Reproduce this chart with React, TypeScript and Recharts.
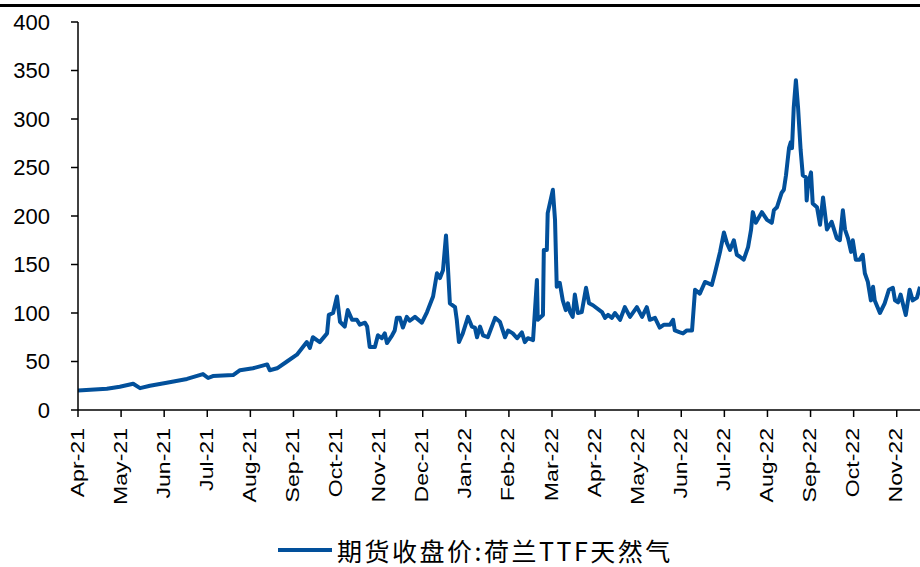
import React from "react";
import { LineChart, Line, XAxis, YAxis, Legend } from "recharts";

const monthLabels = [
  "Apr-21", "May-21", "Jun-21", "Jul-21", "Aug-21", "Sep-21", "Oct-21", "Nov-21", "Dec-21",
  "Jan-22", "Feb-22", "Mar-22", "Apr-22", "May-22", "Jun-22", "Jul-22", "Aug-22", "Sep-22",
  "Oct-22", "Nov-22",
];

const yTicks = [0, 50, 100, 150, 200, 250, 300, 350, 400];

// months elapsed since Apr-21
const monthOffsets = [
  0, 0.67, 0.97, 1.28, 1.44, 1.67, 2.06, 2.53, 2.9, 3.02, 3.13, 3.6, 3.76, 4.06, 4.39, 4.45, 4.62,
  4.85, 5.08, 5.31, 5.38, 5.45, 5.61, 5.78, 5.82, 5.92, 6.01, 6.08, 6.19, 6.26, 6.36, 6.47, 6.54,
  6.66, 6.71, 6.77, 6.89, 6.96, 7.05, 7.12, 7.17, 7.29, 7.35, 7.4, 7.47, 7.54, 7.63, 7.7, 7.82,
  7.98, 8.1, 8.24, 8.33, 8.4, 8.47, 8.54, 8.58, 8.63, 8.75, 8.79, 8.84, 8.93, 9.05, 9.14, 9.21,
  9.26, 9.33, 9.4, 9.51, 9.68, 9.79, 9.91, 9.98, 10.09, 10.19, 10.3, 10.37, 10.44, 10.56, 10.65,
  10.67, 10.79, 10.81, 10.88, 10.9, 11.02, 11.07, 11.11, 11.18, 11.25, 11.32, 11.37, 11.42, 11.48,
  11.53, 11.6, 11.69, 11.79, 11.86, 11.95, 12.16, 12.23, 12.3, 12.39, 12.46, 12.58, 12.69, 12.81,
  12.97, 13.09, 13.2, 13.27, 13.39, 13.5, 13.6, 13.74, 13.81, 13.85, 13.97, 14.04, 14.13, 14.25,
  14.32, 14.43, 14.55, 14.71, 14.78, 14.9, 14.99, 15.06, 15.13, 15.22, 15.29, 15.36, 15.45, 15.55,
  15.62, 15.66, 15.73, 15.87, 15.99, 16.1, 16.15, 16.22, 16.33, 16.38, 16.43, 16.5, 16.54, 16.57,
  16.61, 16.66, 16.71, 16.77, 16.82, 16.89, 16.91, 16.94, 17.01, 17.05, 17.15, 17.22, 17.29, 17.38,
  17.49, 17.61, 17.68, 17.75, 17.8, 17.87, 17.94, 17.98, 18.05, 18.14, 18.21, 18.26, 18.33, 18.4,
  18.45, 18.49, 18.61, 18.72, 18.82, 18.91, 18.96, 19.03, 19.09, 19.14, 19.21, 19.3, 19.37, 19.47,
  19.54,
];

const ttfPrices = [
  20, 22, 24, 27, 22.5, 25, 28, 32, 37, 33, 35, 36, 41, 43, 47, 41, 43,
  50, 57, 70, 64, 75, 70, 79, 98, 100, 117, 91, 86, 103, 93, 93, 88,
  90, 86, 65, 65, 77, 74, 79, 69, 77, 82, 95, 95, 85, 96, 92, 96,
  90, 101, 117, 141, 136, 144, 180, 151, 110, 106, 93, 70, 79, 96, 86, 85,
  75, 86, 77, 75, 95, 91, 75, 82, 79, 74, 80, 70, 74, 72, 134,
  93, 98, 165, 165, 203, 227, 196, 127, 131, 113, 103, 110, 101, 96,
  119, 100, 101, 126, 110, 108, 101, 95, 98, 95, 100, 93, 106, 96,
  106, 96, 106, 93, 95, 85, 88, 88, 93, 82, 80, 79, 82, 82,
  124, 120, 132, 129, 141, 163, 183, 172, 165, 175, 160, 158, 155, 168,
  186, 204, 193, 204, 196, 193, 206, 209, 224, 227, 242, 270, 276, 270,
  312, 340, 312, 268, 242, 240, 216, 232, 245, 213, 209, 191, 219, 186,
  194, 177, 175, 206, 186, 177, 163, 175, 155, 155, 160, 141, 132, 113,
  127, 113, 100, 110, 124, 126, 113, 111, 119, 110, 98, 124, 113, 116,
  127,
];

const seriesName = "期货收盘价:荷兰TTF天然气";
const lineColor = "#02509B";

const data = monthOffsets.map((t, i) => ({ t, price: ttfPrices[i] }));
const xTicks = monthLabels.map((_, i) => i);

const AXIS_FONT = "'Liberation Sans', Arial, sans-serif";

const MonthTick = (props: any) => {
  const { x, y, payload } = props;
  return (
    <text
      transform={`translate(${x + 5.5}, ${y + 11}) rotate(-90) scale(1.05, 0.85)`}
      textAnchor="end"
      fontSize={22}
      fontFamily={AXIS_FONT}
      fill="#000"
    >
      {monthLabels[payload.value]}
    </text>
  );
};

const LegendContent = () => (
  <div
    style={{
      display: "flex",
      alignItems: "center",
      paddingLeft: 278,
      height: 30,
      boxSizing: "border-box",
    }}
  >
    <div style={{ width: 54, height: 4, background: lineColor, marginRight: 5, flexShrink: 0 }} />
    <span
      style={{
        fontSize: 25,
        letterSpacing: 2.5,
        fontFamily: "'Noto Sans CJK SC', sans-serif",
        color: "#000",
        lineHeight: "26px",
        whiteSpace: "nowrap",
      }}
    >
      {seriesName}
    </span>
  </div>
);

export default function App() {
  return (
    <div style={{ position: "absolute", left: 0, top: 0, width: 920, height: 567, background: "#fff" }}>
      <div style={{ position: "absolute", left: 0, top: 4, width: 920, height: 3, background: "#000" }} />
      <LineChart
        width={920}
        height={567}
        data={data}
        margin={{ top: 22, right: 0, bottom: 2, left: 0 }}
      >
        <XAxis
          dataKey="t"
          type="number"
          domain={[0, 19.54]}
          ticks={xTicks}
          interval={0}
          allowDataOverflow
          tick={<MonthTick />}
          tickSize={7}
          tickMargin={0}
          height={125}
          stroke="#000"
          strokeWidth={1.5}
          tickLine={{ stroke: "#000", strokeWidth: 1.5 }}
        />
        <YAxis
          domain={[0, 400]}
          ticks={yTicks}
          interval={0}
          width={78}
          tickSize={7}
          tickMargin={21}
          stroke="#000"
          strokeWidth={1.5}
          tickLine={{ stroke: "#000", strokeWidth: 1.5 }}
          tick={{ fill: "#000", fontSize: 22, fontFamily: AXIS_FONT }}
        />
        <Legend verticalAlign="bottom" height={30} content={<LegendContent />} />
        <Line
          type="linear"
          dataKey="price"
          name={seriesName}
          stroke={lineColor}
          strokeWidth={4}
          dot={false}
          strokeLinejoin="round"
          isAnimationActive={false}
        />
      </LineChart>
    </div>
  );
}
